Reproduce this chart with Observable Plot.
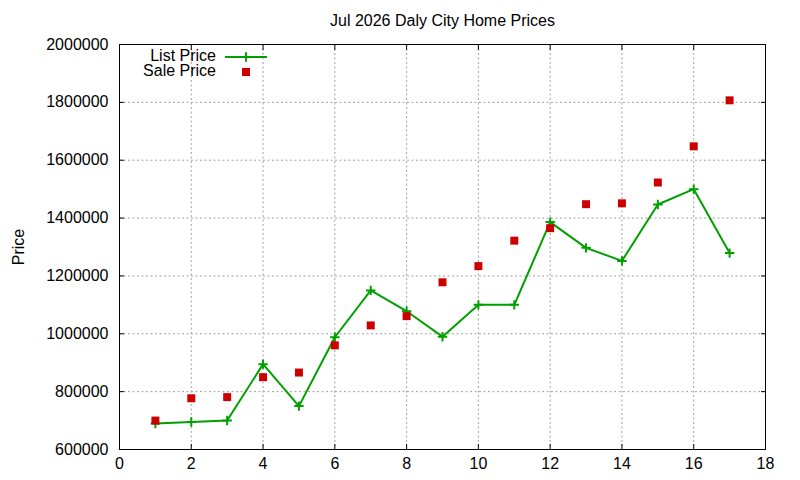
<!DOCTYPE html>
<html><head><meta charset="utf-8">
<script src="https://cdn.jsdelivr.net/npm/d3@7"></script>
<script src="https://cdn.jsdelivr.net/npm/@observablehq/plot@0.6"></script>
<style>body{margin:0;background:#fff}</style>
</head><body><div id="chart"></div>
<script>
const title = "Jul 2026 Daly City Home Prices";
const yLabel = "Price";
const seriesNames = ["List Price", "Sale Price"];
const months = [1, 2, 3, 4, 5, 6, 7, 8, 9, 10, 11, 12, 13, 14, 15, 16, 17];
const listPrice = [690000, 695000, 700000, 895000, 750000, 988000, 1150000, 1078000, 990000, 1100000, 1100000, 1386000, 1297000, 1252000, 1447000, 1500000, 1279000];
const salePrice = [700000, 777000, 781000, 850000, 866000, 960000, 1029000, 1061000, 1178000, 1234000, 1322000, 1365000, 1448000, 1451000, 1523000, 1648000, 1807000];
const xTicks = [0, 2, 4, 6, 8, 10, 12, 14, 16, 18];
const yTicks = [600000, 800000, 1000000, 1200000, 1400000, 1600000, 1800000, 2000000];

const green = "#00a000", red = "#cc0000";
const listData = months.map((m, i) => ({month: m, price: listPrice[i]}));
const saleData = months.map((m, i) => ({month: m, price: salePrice[i]}));

const plusSymbol = {
  draw(ctx, size) {
    const r = Math.sqrt(size / Math.PI);
    ctx.moveTo(-r, 0); ctx.lineTo(r, 0);
    ctx.moveTo(0, -r); ctx.lineTo(0, r);
  }
};
const gridStyle = {stroke: "#a0a0a0", strokeOpacity: 1, strokeDasharray: "2,2.5"};

const plot = Plot.plot({
  width: 800, height: 480,
  marginLeft: 119, marginRight: 35, marginTop: 44, marginBottom: 31,
  style: {fontFamily: "'Liberation Sans', Arial, sans-serif", fontSize: "16px", color: "#000", background: "#fff"},
  x: {domain: [0, 18]},
  y: {domain: [600000, 2000000]},
  marks: [
    Plot.gridX(xTicks, gridStyle),
    Plot.gridY(yTicks, gridStyle),
    Plot.line(listData, {x: "month", y: "price", stroke: green, strokeWidth: 2}),
    Plot.dot(listData, {x: "month", y: "price", symbol: plusSymbol, r: 4.7, stroke: green, strokeWidth: 2, fill: "none"}),
    Plot.dot(saleData, {x: "month", y: "price", symbol: "square", r: 4.5, fill: red, stroke: "none"}),
    Plot.frame({stroke: "#000"}),
    Plot.axisX(xTicks, {anchor: "bottom", tickSize: 0, tickPadding: 8, label: null, tickFormat: d => String(d)}),
    Plot.axisX(xTicks, {anchor: "bottom", tickSize: 5, inset: 5, label: null, tickFormat: () => ""}),
    Plot.axisX(xTicks, {anchor: "top", tickSize: 5, inset: 5, label: null, tickFormat: () => ""}),
    Plot.axisY(yTicks, {anchor: "left", tickSize: 0, tickPadding: 11, label: null, tickFormat: d => String(d)}),
    Plot.axisY(yTicks, {anchor: "left", tickSize: 5, inset: 5, label: null, tickFormat: () => ""}),
    Plot.axisY(yTicks, {anchor: "right", tickSize: 5, inset: 5, label: null, tickFormat: () => ""}),
    Plot.text([title], {frameAnchor: "top", dy: -24, fontSize: 16, lineAnchor: "middle"}),
    Plot.text([yLabel], {frameAnchor: "left", dx: -101, rotate: -90, fontSize: 16, textAnchor: "middle", lineAnchor: "middle"})
  ]
});

// legend (inside plot area, top-left)
const svg = d3.select(plot);
const lg = svg.append("g").attr("font-family", "'Liberation Sans', Arial, sans-serif").attr("font-size", 16);
lg.append("text").attr("x", 216).attr("y", 61).attr("text-anchor", "end").text(seriesNames[0]);
lg.append("line").attr("x1", 225).attr("x2", 267).attr("y1", 57).attr("y2", 57).attr("stroke", green).attr("stroke-width", 2);
lg.append("path").attr("d", "M241.3,57H250.7M246,52.3V61.7").attr("stroke", green).attr("stroke-width", 2);
lg.append("text").attr("x", 216).attr("y", 76).attr("text-anchor", "end").text(seriesNames[1]);
lg.append("rect").attr("x", 242).attr("y", 68).attr("width", 8).attr("height", 8).attr("fill", red);

document.getElementById("chart").appendChild(plot);
</script>
</body></html>
